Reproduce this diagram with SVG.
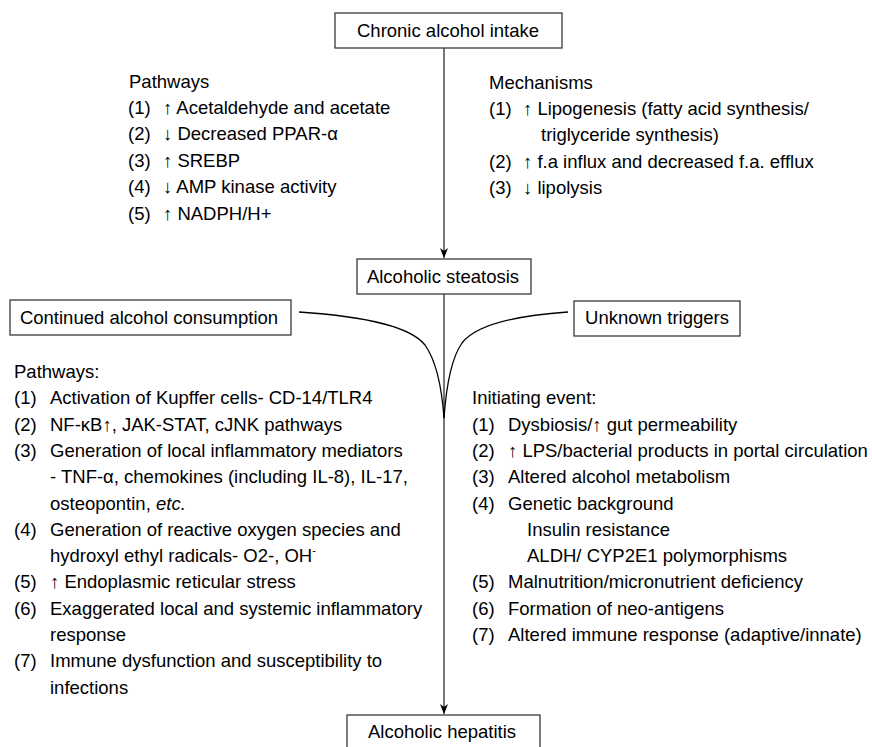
<svg xmlns="http://www.w3.org/2000/svg" width="872" height="747" viewBox="0 0 872 747">
<style>
text{font-family:"Liberation Sans",Arial,sans-serif;font-size:18.5px;fill:#000}
.box{fill:#fff;stroke:#3a3a3a;stroke-width:1.3}
.lbl{text-anchor:middle}
.vline{stroke:#555;stroke-width:1.6;fill:none}
.curve{stroke:#000;stroke-width:1.3;fill:none}
</style>
<defs>
<marker id="ah" viewBox="0 0 10 10" refX="10" refY="5" markerWidth="10" markerHeight="10" markerUnits="userSpaceOnUse" orient="auto">
<path d="M0,1 L10,5 L0,9 L3,5 Z" fill="#000"/>
</marker>
</defs>
<rect width="872" height="747" fill="#fff"/>
<g id="connectors">
<line class="vline" x1="444" y1="48" x2="444" y2="258" marker-end="url(#ah)"/>
<line class="vline" x1="444" y1="294" x2="444" y2="714" marker-end="url(#ah)"/>
<path class="curve" d="M299,312 C360,316 410,326 425,345 C437,362 442,390 444,418"/>
<path class="curve" d="M568,312 C510,316 475,326 462,343 C450,360 446,390 444,418"/>
</g>
<g id="chronic">
<rect class="box" x="335" y="13" width="227" height="35"/>
<text class="lbl" x="448" y="37">Chronic alcohol intake</text>
</g>
<g id="steatosis">
<rect class="box" x="357" y="259" width="174" height="35"/>
<text class="lbl" x="443" y="283">Alcoholic steatosis</text>
</g>
<g id="continued">
<rect class="box" x="10" y="300" width="281" height="35"/>
<text class="lbl" x="149" y="324">Continued alcohol consumption</text>
</g>
<g id="unknown">
<rect class="box" x="574" y="301" width="166" height="35"/>
<text class="lbl" x="657" y="324">Unknown triggers</text>
</g>
<g id="hepatitis">
<rect class="box" x="347" y="715" width="193" height="45"/>
<text class="lbl" x="442" y="738">Alcoholic hepatitis</text>
</g>
<g id="pathways-top">
<text x="129" y="88">Pathways</text>
<text y="114"><tspan x="128">(1)</tspan><tspan x="163">↑ Acetaldehyde and acetate</tspan></text>
<text y="140"><tspan x="128">(2)</tspan><tspan x="163">↓ Decreased PPAR-α</tspan></text>
<text y="167"><tspan x="128">(3)</tspan><tspan x="163">↑ SREBP</tspan></text>
<text y="193"><tspan x="128">(4)</tspan><tspan x="163">↓ AMP kinase activity</tspan></text>
<text y="220"><tspan x="128">(5)</tspan><tspan x="163">↑ NADPH/H+</tspan></text>
</g>
<g id="mechanisms">
<text x="489" y="89">Mechanisms</text>
<text y="115"><tspan x="489">(1)</tspan><tspan x="523">↑ Lipogenesis (fatty acid synthesis/</tspan></text>
<text x="541" y="141">triglyceride synthesis)</text>
<text y="168"><tspan x="489">(2)</tspan><tspan x="523">↑ f.a influx and decreased f.a. efflux</tspan></text>
<text y="194"><tspan x="489">(3)</tspan><tspan x="523">↓ lipolysis</tspan></text>
</g>
<g id="pathways-bottom">
<text x="14" y="378">Pathways:</text>
<text y="404"><tspan x="14">(1)</tspan><tspan x="50">Activation of Kupffer cells- CD-14/TLR4</tspan></text>
<text y="431"><tspan x="14">(2)</tspan><tspan x="50">NF-κB↑, JAK-STAT, cJNK pathways</tspan></text>
<text y="457"><tspan x="14">(3)</tspan><tspan x="50">Generation of local inflammatory mediators</tspan></text>
<text x="50" y="483">- TNF-α, chemokines (including IL-8), IL-17,</text>
<text x="50" y="510">osteopontin, <tspan font-style="italic">etc.</tspan></text>
<text y="536"><tspan x="14">(4)</tspan><tspan x="50">Generation of reactive oxygen species and</tspan></text>
<text x="50" y="562">hydroxyl ethyl radicals- O2-, OH<tspan font-size="11" dy="-8">-</tspan></text>
<text y="588"><tspan x="14">(5)</tspan><tspan x="50">↑ Endoplasmic reticular stress</tspan></text>
<text y="615"><tspan x="14">(6)</tspan><tspan x="50">Exaggerated local and systemic inflammatory</tspan></text>
<text x="50" y="641">response</text>
<text y="667"><tspan x="14">(7)</tspan><tspan x="50">Immune dysfunction and susceptibility to</tspan></text>
<text x="50" y="694">infections</text>
</g>
<g id="initiating">
<text x="472" y="404">Initiating event:</text>
<text y="431"><tspan x="472">(1)</tspan><tspan x="508">Dysbiosis/↑ gut permeability</tspan></text>
<text y="457"><tspan x="472">(2)</tspan><tspan x="508">↑ LPS/bacterial products in portal circulation</tspan></text>
<text y="483"><tspan x="472">(3)</tspan><tspan x="508">Altered alcohol metabolism</tspan></text>
<text y="510"><tspan x="472">(4)</tspan><tspan x="508">Genetic background</tspan></text>
<text x="527" y="536">Insulin resistance</text>
<text x="527" y="562">ALDH/ CYP2E1 polymorphisms</text>
<text y="588"><tspan x="472">(5)</tspan><tspan x="508">Malnutrition/micronutrient deficiency</tspan></text>
<text y="615"><tspan x="472">(6)</tspan><tspan x="508">Formation of neo-antigens</tspan></text>
<text y="641"><tspan x="472">(7)</tspan><tspan x="508">Altered immune response (adaptive/innate)</tspan></text>
</g>
</svg>
